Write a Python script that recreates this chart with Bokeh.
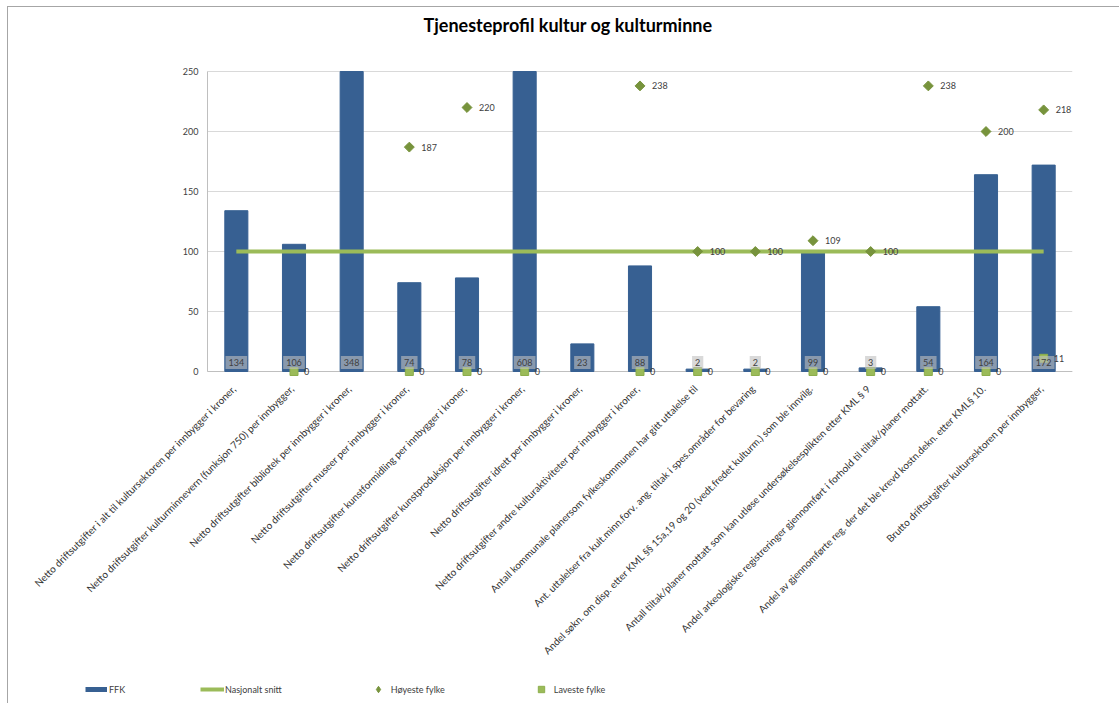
import math
from bokeh.plotting import figure
from bokeh.models import (ColumnDataSource, LabelSet, Legend, LegendItem, Title,
                          Range1d, FixedTicker)
from bokeh.core.properties import value
from bokeh.embed import file_html
from bokeh.resources import INLINE

# ---------------- data ----------------
categories = [
    "Netto driftsutgifter i alt til kultursektoren per innbygger i kroner,",
    "Netto driftsutgifter kulturminnevern (funksjon 750) per innbygger,",
    "Netto driftsutgifter bibliotek per innbygger i kroner,",
    "Netto driftsutgifter museer per innbygger i kroner,",
    "Netto driftsutgifter kunstformidling per innbygger i kroner,",
    "Netto driftsutgifter kunstproduksjon per innbygger i kroner,",
    "Netto driftsutgifter idrett per innbygger i kroner,",
    "Netto driftsutgifter andre kulturaktiviteter per innbygger i kroner,",
    "Antall kommunale planersom fylkeskommunen har gitt uttalelse til",
    "Ant. uttalelser fra kult.minn.forv. ang. tiltak i spes.områder for bevaring",
    "Andel søkn. om disp. etter KML §§ 15a,19 og 20 (vedt.fredet kulturm.) som ble innvilg.",
    "Antall tiltak/planer mottatt som kan utløse undersøkelsesplikten etter KML § 9",
    "Andel arkeologiske registreringer gjennomført i forhold til tiltak/planer mottatt.",
    "Andel av gjennomførte reg. der det ble krevd kostn.dekn. etter KML§ 10.",
    "Brutto driftsutgifter kultursektoren per innbygger,",
]
ffk = [134, 106, 348, 74, 78, 608, 23, 88, 2, 2, 99, 3, 54, 164, 172]
nasjonalt_snitt = [100, 100, 100, 100, 100, 100, 100, 100, 100, 100, 100, 100, 100, 100, 100]
hoyeste_fylke = [None, None, None, 187, 220, None, None, 238, 100, 100, 109, 100, 238, 200, 218]
laveste_fylke = [None, 0, None, 0, 0, 0, None, 0, 0, 0, 0, 0, 0, 0, 11]
y_ticks = [0, 50, 100, 150, 200, 250]
title_text = "Tjenesteprofil kultur og kulturminne"
legend_labels = ["FFK", "Nasjonalt snitt", "Høyeste fylke", "Laveste fylke"]

# ---------------- styles / layout ----------------
FONT = "Lato"
BAR = "#376092"
AVG = "#9BBB59"
HIGH = "#77933C"
LOW = "#9BBB59"
TXT = "#404040"
CAT_TXT = "#333333"
GRID = "#D9D9D9"
AXIS = "#BFBFBF"

# page pixel layout (canvas starts at x=8, y=7 because of margin + border)
W, H = 1112, 697
FRAME_L, FRAME_R, FRAME_T, FRAME_B = 33, 1072, 64, 700
BAND_L = 207          # left edge of the first category band (y axis position)
ZERO_Y = 371          # pixel row of value 0
TOP_Y = 71            # pixel row of the axis maximum
n = len(categories)
y_max = y_ticks[-1]
px_per_x = (FRAME_R - BAND_L) / n
px_per_y = (ZERO_Y - TOP_Y) / y_max
x_range = Range1d(-0.5 - (BAND_L - FRAME_L) / px_per_x, n - 0.5)
y_range = Range1d(-(FRAME_B - ZERO_Y) / px_per_y, (ZERO_Y - FRAME_T) / px_per_y)

p = figure(x_range=x_range, y_range=y_range, x_axis_location=None,
           width=W, height=H, output_backend="svg", toolbar_location=None,
           min_border_left=FRAME_L - 8, min_border_right=8 + W - FRAME_R,
           min_border_top=FRAME_T - 7, min_border_bottom=7 + H - FRAME_B)
p.styles = {"margin-left": "7px", "margin-top": "6px",
            "border-left": "1px solid #A6A6A6", "border-top": "1px solid #A6A6A6"}
p.outline_line_color = None
p.background_fill_color = "white"
p.border_fill_color = "white"
p.xgrid.grid_line_color = None
p.xgrid.visible = False
p.ygrid.grid_line_color = None
p.ygrid.visible = False

idx = list(range(n))
band_lo = idx[0] - 0.5
band_hi = idx[-1] + 0.5

# y axis placed at the left edge of the category bands
p.yaxis.ticker = FixedTicker(ticks=y_ticks)
p.yaxis.bounds = (y_ticks[0], y_max)
p.yaxis.fixed_location = band_lo
p.yaxis.axis_line_color = AXIS
p.yaxis.major_tick_line_color = None
p.yaxis.minor_tick_line_color = None
p.yaxis.major_tick_out = 0
p.yaxis.major_tick_in = 0
p.yaxis.major_label_text_font = FONT
p.yaxis.major_label_text_color = TXT
p.yaxis.major_label_text_font_size = "9px"
p.yaxis.major_label_standoff = 9

# horizontal grid lines and category axis line over the category bands
gsrc = ColumnDataSource(dict(x0=[band_lo] * len(y_ticks), x1=[band_hi] * len(y_ticks),
                             y=y_ticks))
p.segment(x0="x0", x1="x1", y0="y", y1="y", source=gsrc, line_color=GRID, line_width=1)
p.segment(x0=[band_lo], x1=[band_hi], y0=[y_ticks[0]], y1=[y_ticks[0]],
          line_color=AXIS, line_width=1)

# bars (bars beyond the axis maximum are cut at the top of the value axis)
bar_top = [min(v, y_max) for v in ffk]
src = ColumnDataSource(dict(x=idx, top=bar_top, snitt=nasjonalt_snitt, cat=categories,
                            lab=[str(v) for v in ffk], zero=[0] * n))
bars = p.vbar(x="x", top="top", width=0.4, source=src, fill_color=BAR, line_color=BAR)
# legend swatch for the bars (thick short bar), not drawn in the plot itself
ffk_swatch = p.line(x="x", y="top", source=src, line_color=BAR, line_width=5, visible=False)

# national average
avg = p.line(x="x", y="snitt", source=src, line_color=AVG, line_width=4)

# highest county
hx = [i for i, v in zip(idx, hoyeste_fylke) if v is not None]
hy = [v for v in hoyeste_fylke if v is not None]
hsrc = ColumnDataSource(dict(x=hx, y=hy, lab=[str(v) for v in hy]))
high = p.scatter(x="x", y="y", source=hsrc, marker="square", angle=math.pi / 4,
                 size=7, fill_color=HIGH, line_color=HIGH)
high_swatch = p.scatter(x="x", y="y", source=hsrc, marker="diamond", size=9,
                        fill_color=HIGH, line_color=HIGH, visible=False)

# lowest county
lx = [i for i, v in zip(idx, laveste_fylke) if v is not None]
ly = [v for v in laveste_fylke if v is not None]
lsrc = ColumnDataSource(dict(x=lx, y=ly, lab=[str(v) for v in ly]))
low = p.scatter(x="x", y="y", source=lsrc, marker="square", size=8,
                fill_color=LOW, line_color="#8DAE4C")

# bar value labels with boxes
p.text(x="x", y="zero", text="lab", source=src, text_align="center",
       text_baseline="middle", y_offset=-9, text_font=value(FONT),
       text_font_size="9px", text_color=TXT,
       background_fill_color="#BFBFBF", background_fill_alpha=0.6, padding=3)

# category labels (rotated 45 degrees, ending under each category)
p.text(x="x", y="zero", text="cat", source=src, angle=math.pi / 4,
       text_align="right", text_baseline="middle", x_offset=-2, y_offset=15,
       text_font=value(FONT), text_font_size="10px", text_color=CAT_TXT)

# marker labels
p.add_layout(LabelSet(x="x", y="y", text="lab", source=hsrc, x_offset=12,
                      text_align="left", text_baseline="middle",
                      text_font=value(FONT), text_font_size="9px", text_color=TXT))
p.add_layout(LabelSet(x="x", y="y", text="lab", source=lsrc, x_offset=10,
                      text_align="left", text_baseline="middle",
                      text_font=value(FONT), text_font_size="9px", text_color=TXT))

# title (with a blank spacer title between it and the frame)
p.add_layout(Title(text=" ", text_font_size="10px", standoff=13), "above")
p.add_layout(Title(text=title_text, align="left", offset=423 - FRAME_L,
                   vertical_align="middle", text_font=FONT, text_font_style="bold",
                   text_font_size="18px", text_color="#000000", standoff=4), "above")

# legends at the bottom of the chart area
common = dict(orientation="horizontal", glyph_height=16, label_height=16, padding=0,
              margin=0, border_line_color=None, background_fill_alpha=0,
              label_text_font=FONT, label_text_font_size="9px", label_text_color=TXT)
legend_a = Legend(items=[LegendItem(label=legend_labels[0], renderers=[ffk_swatch])],
                  location=(85 - FRAME_L, FRAME_B - 697), glyph_width=22,
                  label_standoff=2, spacing=0, **common)
legend_b = Legend(items=[LegendItem(label=legend_labels[1], renderers=[avg]),
                         LegendItem(label=legend_labels[2], renderers=[high_swatch]),
                         LegendItem(label=legend_labels[3], renderers=[low])],
                  location=(200 - FRAME_L, FRAME_B - 697), glyph_width=24,
                  label_standoff=1, spacing=84, **common)
p.add_layout(legend_a, "center")
p.add_layout(legend_b, "center")

open("out.html", "w").write(file_html(p, INLINE))
